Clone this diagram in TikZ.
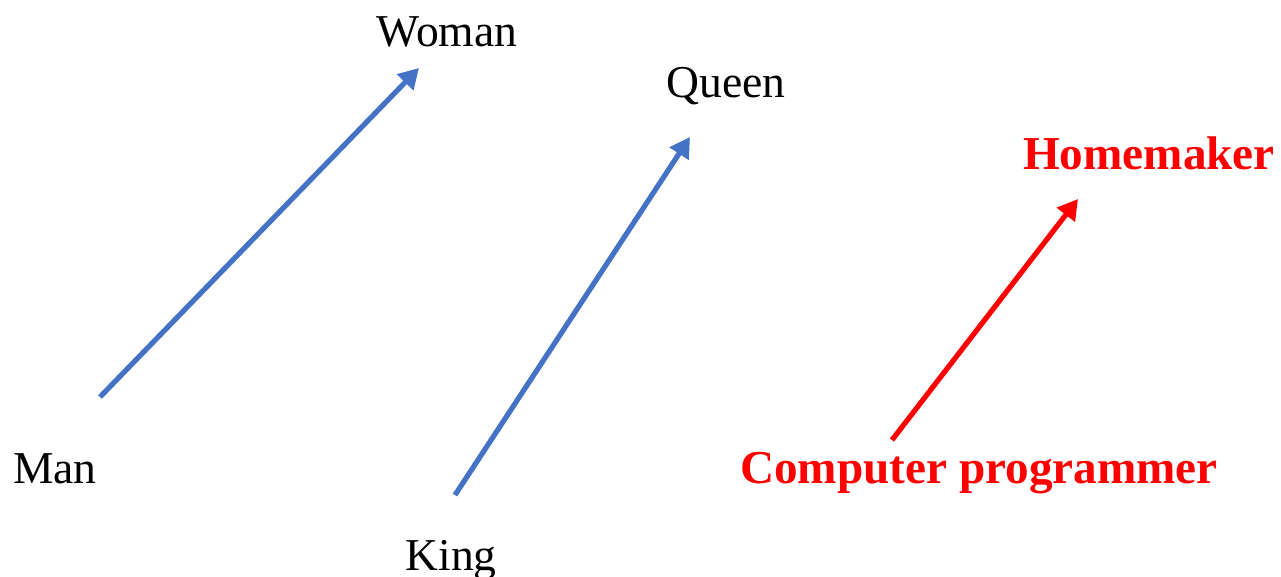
\documentclass[tikz,border=0pt]{standalone}
\usepackage{fontspec}
\setmainfont{Liberation Serif}
\usetikzlibrary{arrows.meta}
\definecolor{arrowblue}{HTML}{4472C4}
\begin{document}
\begin{tikzpicture}[x=0.5pt,y=-0.5pt,
  word/.style={font=\fontsize{22.8}{26}\selectfont, anchor=base, inner sep=0pt},
  redword/.style={word, font=\fontsize{23.6}{27}\selectfont\bfseries, text=red},
  vec/.style={line width=2.6pt, -{Triangle[length=10pt,width=11pt]}},
  bluevec/.style={vec, draw=arrowblue},
  redvec/.style={vec, draw=red}]
\useasboundingbox (0,0) rectangle (1281,577);
\node[word] (man) at (55,483) {Man};
\node[word] (woman) at (447,47) {Woman};
\node[word] (king) at (451,570) {King};
\node[word] (queen) at (726,98) {Queen};
\node[redword] (home) at (1149,170) {Homemaker};
\node[redword] (comp) at (979,483) {Computer programmer};
\coordinate (a1) at (100,397);
\coordinate (b1) at (419,68);
\coordinate (a2) at (455,495);
\coordinate (b2) at (690,137);
\coordinate (a3) at (892,440);
\coordinate (b3) at (1078,199);
\draw[bluevec] (a1) -- (b1);
\draw[bluevec] (a2) -- (b2);
\draw[redvec] (a3) -- (b3);
\end{tikzpicture}
\end{document}
